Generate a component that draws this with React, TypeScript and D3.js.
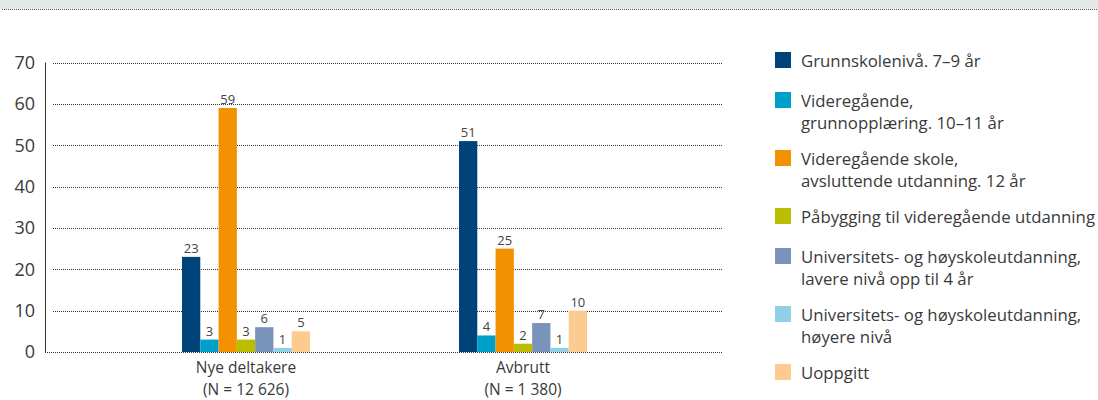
import React from "react";
import * as d3 from "d3";

const categories = ["Nye deltakere", "Avbrutt"];
const categorySub = ["(N = 12 626)", "(N = 1 380)"];
const seriesNames = [
  ["Grunnskolenivå. 7–9 år"],
  ["Videregående,", "grunnopplæring. 10–11 år"],
  ["Videregående skole,", "avsluttende utdanning. 12 år"],
  ["Påbygging til videregående utdanning"],
  ["Universitets- og høyskoleutdanning,", "lavere nivå opp til 4 år"],
  ["Universitets- og høyskoleutdanning,", "høyere nivå"],
  ["Uoppgitt"],
];
const seriesColors = ["#00427a", "#009fca", "#f39200", "#bbbd00", "#7a93bb", "#8fd0e6", "#fccb8f"];
const valuesNye = [23, 3, 59, 3, 6, 1, 5];
const valuesAvbrutt = [51, 4, 25, 2, 7, 1, 10];
const yTicks = [0, 10, 20, 30, 40, 50, 60, 70];

const W = 1098;
const H = 400;
const FONT = "'Open Sans', 'Noto Sans', sans-serif";

export default function App() {
  const data = [valuesNye, valuesAvbrutt];
  const y = d3.scaleLinear().domain([0, 70]).range([352, 62.5]);
  const x0 = d3.scalePoint<string>().domain(categories).range([246, 523]);
  const x1 = d3
    .scaleBand<number>()
    .domain(d3.range(seriesNames.length))
    .range([-64, 64])
    .padding(0);

  // legend layout
  let ly = 52;
  const legendItems = seriesNames.map((lines, i) => {
    const item = { lines, color: seriesColors[i], y: ly };
    ly += 40 + 18 * (lines.length - 1);
    return item;
  });

  return (
    <div style={{ position: "fixed", left: 0, top: 0 }}>
      <svg width={W} height={H} style={{ display: "block", fontFamily: FONT }}>
        <rect x={0} y={0} width={W} height={H} fill="#fff" />
        {/* top band */}
        <rect x={0} y={0} width={W} height={9} fill="#e3e9e5" />
        <line x1={2} x2={W} y1={9.5} y2={9.5} stroke="#555" strokeWidth={1} strokeDasharray="1,1" />

        {/* gridlines */}
        {yTicks.map((t) => (
          <g key={t}>
            <line
              x1={t === 0 ? 45 : 53}
              x2={722}
              y1={Math.round(y(t)) + 0.5}
              y2={Math.round(y(t)) + 0.5}
              stroke="#333"
              strokeWidth={1}
              strokeDasharray="1,1"
            />
            <text
              x={35}
              y={y(t)}
              dy="0.36em"
              textAnchor="end"
              fontSize={18}
              fill="#3a3a3a"
            >
              {t}
            </text>
          </g>
        ))}
        <line x1={45.5} x2={45.5} y1={y(70)} y2={y(0)} stroke="#333" strokeWidth={1} />

        {/* bars */}
        {categories.map((c, ci) => (
          <g key={c} transform={`translate(${x0(c)},0)`}>
            {data[ci].map((v, si) => (
              <g key={si}>
                <rect
                  x={x1(si)!}
                  y={y(v)}
                  width={x1.bandwidth()}
                  height={y(0) - y(v)}
                  fill={seriesColors[si]}
                />
                <text
                  x={x1(si)! + x1.bandwidth() / 2}
                  y={y(v) - 4}
                  textAnchor="middle"
                  fontSize={13}
                  fill="#444"
                >
                  {v}
                </text>
              </g>
            ))}
            <text x={0} y={373} textAnchor="middle" fontSize={15.5} fill="#3a3a3a">
              {c}
            </text>
            <text x={0} y={394.5} textAnchor="middle" fontSize={15.5} fill="#3a3a3a">
              {categorySub[ci]}
            </text>
          </g>
        ))}

        {/* legend */}
        {legendItems.map((it, i) => (
          <g key={i} transform={`translate(775,${it.y})`}>
            <rect x={0} y={0} width={16} height={16} fill={it.color} />
            {it.lines.map((ln, li) => (
              <text key={li} x={26} y={9 + li * 22} dy="0.36em" fontSize={16.8} fill="#3a3a3a">
                {ln}
              </text>
            ))}
          </g>
        ))}
      </svg>
    </div>
  );
}
